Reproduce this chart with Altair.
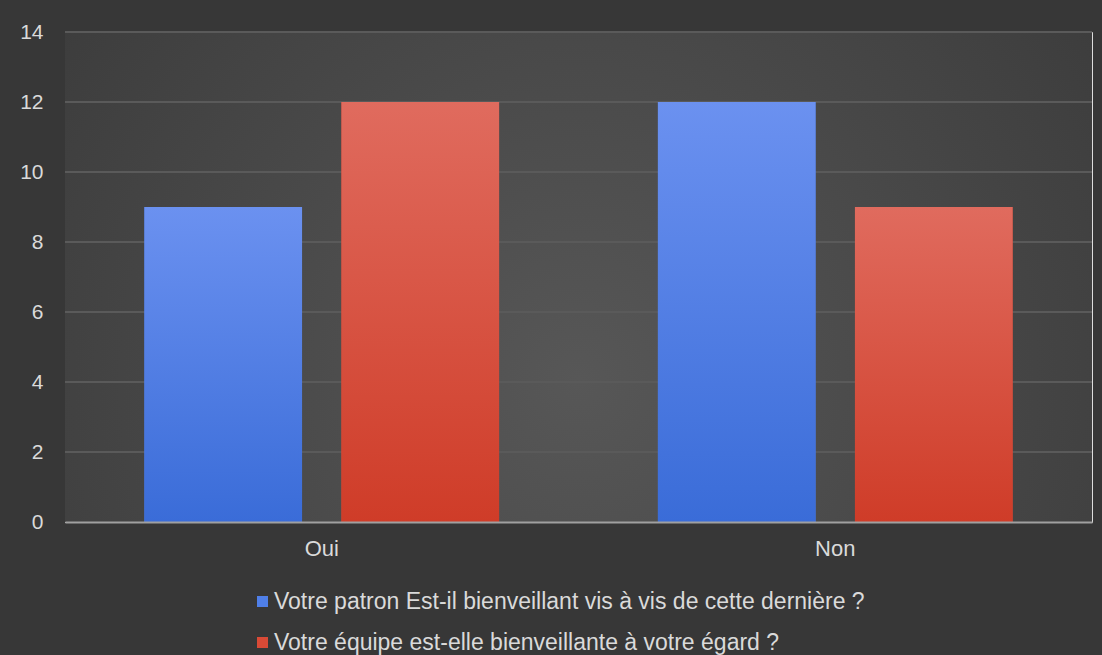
import altair as alt
import pandas as pd

categories = ["Oui", "Non"]
series_names = [
    "Votre patron Est-il bienveillant vis à vis de cette dernière ?",
    "Votre équipe est-elle bienveillante à votre égard ?",
]
patron_values = [9, 12]
equipe_values = [12, 9]
y_ticks = [0, 2, 4, 6, 8, 10, 12, 14]
series_colors = ["#4f7fe8", "#d94a36"]

rows = []
for i, c in enumerate(categories):
    rows.append({"cat": c, "series": series_names[0], "value": patron_values[i]})
    rows.append({"cat": c, "series": series_names[1], "value": equipe_values[i]})
df = pd.DataFrame(rows)
grid_df = pd.DataFrame({"value": y_ticks[1:]})

grad_blue = alt.LinearGradient(
    gradient="linear", x1=0, y1=0, x2=0, y2=1,
    stops=[alt.GradientStop(color="#6b91f0", offset=0), alt.GradientStop(color="#3a6cd8", offset=1)],
)
grad_red = alt.LinearGradient(
    gradient="linear", x1=0, y1=0, x2=0, y2=1,
    stops=[alt.GradientStop(color="#e06b5e", offset=0), alt.GradientStop(color="#cf3c28", offset=1)],
)
grad_bg = alt.RadialGradient(
    gradient="radial", x1=0.5, y1=0.6, r1=0, x2=0.5, y2=0.6, r2=0.75,
    stops=[alt.GradientStop(color="#575757", offset=0), alt.GradientStop(color="#373737", offset=1)],
)

x_enc = alt.X(
    "cat:N", sort=categories, title=None,
    scale=alt.Scale(paddingInner=0, paddingOuter=0),
    axis=alt.Axis(labelAngle=0, ticks=False, domain=True, domainColor="#a0a0a0", domainWidth=2,
                  labelPadding=16, labelFontSize=22, labelColor="#dadada", grid=False, zindex=1),
)
xo_enc = alt.XOffset("series:N", sort=series_names, scale=alt.Scale(paddingInner=0.2, paddingOuter=0.403))
y_scale = alt.Scale(domain=[0, 14], nice=False)
y_enc = alt.Y(
    "value:Q", title=None, scale=y_scale,
    axis=alt.Axis(values=y_ticks, ticks=False, domain=False, labelPadding=22, labelFontSize=21,
                  labelColor="#dadada", grid=False),
)

bg = alt.Chart(alt.Data(values=[{"bg": 1}])).mark_rect(fill=grad_bg).encode(
    x=alt.value(0), x2=alt.value("width"), y=alt.value(0), y2=alt.value("height")
)

grid = alt.Chart(grid_df).mark_rule(color="#5a5a5a", strokeWidth=2).encode(
    y=alt.Y("value:Q", scale=y_scale, title=None),
    x=alt.value(0), x2=alt.value("width"),
)

base = alt.Chart(df)

legend_bars = base.mark_bar().encode(
    x=x_enc, xOffset=xo_enc, y=y_enc,
    fill=alt.Fill(
        "series:N", sort=series_names, title=None,
        scale=alt.Scale(domain=series_names, range=series_colors),
        legend=alt.Legend(orient="none", legendX=186, legendY=558, direction="vertical",
                          symbolType="square", symbolSize=121, symbolStrokeWidth=0,
                          labelFontSize=23, labelColor="#dadada", labelOffset=0,
                          rowPadding=17, labelLimit=1000),
    ),
)

grad_bars = base.mark_bar().encode(
    x=x_enc, xOffset=xo_enc, y=y_enc,
    fill=alt.condition(alt.datum.series == series_names[0], alt.value(grad_blue), alt.value(grad_red)),
)

chart = alt.layer(bg, grid, legend_bars, grad_bars).properties(
    width=1027, height=490,
    autosize=alt.AutoSizeParams(type="none"),
    padding={"left": 65, "top": 32, "right": 10, "bottom": 133},
    background="#373737",
).configure_view(stroke=None).configure(font="Liberation Sans")

chart.save("out.html", embed_options={"renderer": "svg", "actions": False})
